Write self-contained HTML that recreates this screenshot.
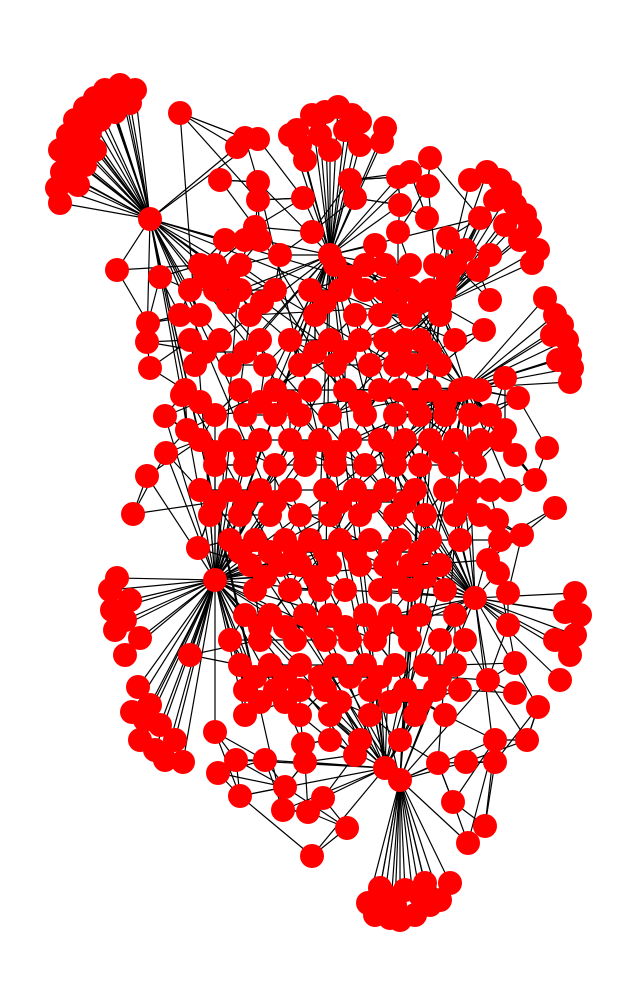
<!DOCTYPE html>
<html><head><meta charset="utf-8"><style>html,body{margin:0;padding:0;background:#fff}svg{display:block}</style></head>
<body>
<svg id="g" width="636" height="1007" viewBox="0 0 636 1007" xmlns="http://www.w3.org/2000/svg">
<g id="edges"></g>
<g id="nodes"></g>
</svg>
<script>
const hubs = [[150,219],[215,580],[400,780],[475,598],[466,388],[440,305],[330,255],[385,768]];
const clusterTL = [[60,203],[57,188],[62,172],[60,150],[68,135],[75,120],[85,108],[95,98],[105,90],[120,85],[135,90],[130,103],[115,112],[100,120],[90,132],[82,145],[75,160],[70,175],[80,125],[110,100],[95,150],[85,165],[78,185],[125,95]];
const clusterTop = [[297,130],[300,145],[312,115],[325,112],[338,107],[352,115],[360,122],[385,128],[382,142],[360,145],[345,130],[320,135],[305,160],[330,150],[290,135]];
const clusterTR = [[470,180],[487,172],[500,180],[510,192],[515,205],[525,215],[530,228],[538,250],[532,263],[520,240],[505,225],[495,200]];
const clusterR = [[545,298],[555,315],[562,325],[567,340],[570,355],[572,368],[570,382],[558,360],[552,335]];
const clusterL = [[117,578],[110,590],[112,610],[115,630],[125,655],[140,638],[130,600],[125,620]];
const clusterLL = [[138,687],[132,712],[145,720],[140,740],[155,750],[165,760],[183,762],[175,740],[160,725],[150,705]];
const clusterRL = [[575,593],[580,615],[575,635],[570,655],[560,680],[565,612],[555,640]];
const clusterB = [[368,903],[375,915],[390,918],[400,920],[415,915],[430,905],[440,900],[450,883],[425,883],[405,890],[385,895],[380,888],[420,895],[395,905]];
const misc = [[180,113],[237,147],[245,138],[258,139],[220,180],[258,182],[258,200],[117,270],[160,277],
[303,198],[255,227],[280,255],[312,232],[350,180],[355,198],[375,245],[398,232],[398,177],[410,172],[430,158],[428,186],[400,205],[427,218],[448,238],[465,250],[480,218],[490,255],[478,270],
[490,300],[484,330],[505,378],[518,398],[547,448],[535,480],[555,508],[505,430],[515,455],[510,490],[522,535],[497,520],[488,560],[498,573],
[508,593],[508,625],[515,663],[488,680],[515,693],[538,707],[527,740],[495,740],[495,762],[466,762],[485,826],[468,843],[453,802],[438,763],
[148,323],[147,342],[150,368],[165,416],[187,430],[147,476],[133,514],[166,453],[198,548],[190,655],[182,395],
[215,732],[218,773],[236,760],[240,796],[265,760],[285,787],[305,762],[303,744],[283,810],[308,812],[323,798],[347,828],[312,856],[355,755]];
const rowY = [240,265,290,315,340,365,390,415,440,465,490,515,540,565,590,615,640,665,690,715,740];
const rowX = [[225,245,260],[200,215,240,335,365,385,410,435,455],[190,215,240,275,310,340,365,385,410,430,445],[180,200,250,315,355,380,410,440],[190,220,260,290,330,360,385,405,420,455],[195,230,265,300,335,370,395,415,440],[185,240,275,310,345,380,400,430,460,480],[215,245,275,300,330,365,395,420,445,470,490],[200,230,260,290,320,350,380,405,430,455,480,500],[215,245,275,305,335,365,395,420,450,475],[200,230,260,290,325,355,385,415,445,470,490],[210,240,270,300,330,360,395,425,455,480],[230,255,285,310,340,370,400,430,460,500],[250,280,300,330,360,385,410,440],[255,290,320,345,380,410,445],[245,270,305,330,365,390,420,455],[230,260,295,325,350,375,410,440,465],[240,270,300,335,365,395,425,455],[245,275,300,325,370,405,435,460],[245,300,330,370,415,445],[330,360,400]];
const rowY2 = [277,302,352,402,452,502,552,577,627,677,702];
const rowX2 = [[205,228,350,398,448],[228,262,325,395,420],[205,245,315,345,400,430],[200,260,290,360,415,445],[215,245,305,335,395,440,470],[215,245,275,340,370,405,465],[240,270,295,325,355,390,420],[265,315,395,425],[260,285,315,345,380,405],[255,285,320,350,380,440],[260,285,340,390,420]];

const E = document.getElementById('edges'), N = document.getElementById('nodes');
const NS = 'http://www.w3.org/2000/svg';
function line(a,b){const l=document.createElementNS(NS,'line');
l.setAttribute('x1',a[0]);l.setAttribute('y1',a[1]);l.setAttribute('x2',b[0]);l.setAttribute('y2',b[1]);
l.setAttribute('stroke','#000');l.setAttribute('stroke-width','1.2');


E.appendChild(l);}
function node(p){const c=document.createElementNS(NS,'circle');
c.setAttribute('cx',p[0]);c.setAttribute('cy',p[1]);c.setAttribute('r',12);c.setAttribute('fill','#ff0000');


N.appendChild(c);}
const mid=[];rowY.forEach((y,i)=>rowX[i].forEach(x=>mid.push([x,y])));
rowY2.forEach((y,i)=>rowX2[i].forEach(x=>mid.push([x,y])));
[[clusterTL,0],[clusterTop,6],[clusterTR,5],[clusterR,4],[clusterL,1],[clusterLL,1],[clusterRL,3],[clusterB,2]].forEach(([c,h])=>c.forEach(p=>line(p,hubs[h])));
const all=mid.concat(misc);
all.forEach((p,i)=>{
  const d=all.map((q,j)=>[j,(q[0]-p[0])**2+(q[1]-p[1])**2]).filter(t=>t[0]!==i).sort((a,b)=>a[1]-b[1]);
  line(p,all[d[1][0]]);line(p,all[d[5][0]]);
  if(i%2===0){let bh=0,bd=1e9;hubs.forEach((h,k)=>{const dd=(h[0]-p[0])**2+(h[1]-p[1])**2;if(dd<bd){bd=dd;bh=k;}});line(p,hubs[bh]);}
  if(i%5===0){line(p,hubs[(i/5)%hubs.length|0]);}
});
for(let i=0;i<hubs.length;i++)for(let j=i+1;j<hubs.length;j+=2)line(hubs[i],hubs[j]);
[clusterTL,clusterTop,clusterTR,clusterR,clusterL,clusterLL,clusterRL,clusterB,misc,mid,hubs].forEach(c=>c.forEach(node));
</script>
</body></html>
